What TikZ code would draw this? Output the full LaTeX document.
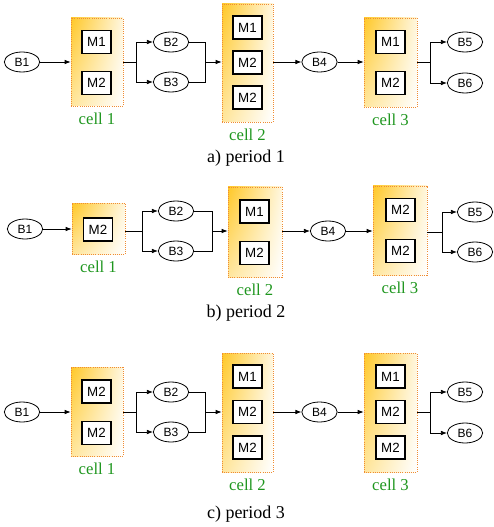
\documentclass[tikz,border=0pt]{standalone}
\usepackage{fontspec}
\setmainfont{Liberation Serif}
\newfontfamily\arialf{Liberation Sans}
\usetikzlibrary{shapes.geometric,arrows.meta,shadings}
\definecolor{cellgold}{RGB}{255,200,40}
\definecolor{cellborder}{RGB}{240,140,50}
\definecolor{labgreen}{RGB}{30,150,30}
\tikzset{
  buf/.style={ellipse,draw,line width=0.6pt,minimum width=26.5pt,minimum height=15pt,inner sep=0pt,font=\arialf\fontsize{9}{10}\selectfont},
  mach/.style={rectangle,draw,line width=0.8pt,fill=white,minimum width=21.75pt,minimum height=17.25pt,inner sep=0pt,font=\arialf\fontsize{10}{11}\selectfont},
  cellbox/.style={rectangle,draw=cellborder,densely dotted,line width=0.6pt,inner sep=0pt,
     upper left=cellgold, upper right=cellgold!15, lower left=cellgold!45, lower right=white},
  celllab/.style={font=\fontsize{12.5}{14}\selectfont,text=labgreen,inner sep=0pt,below=4.5pt},
  perlab/.style={font=\fontsize{13.5}{16}\selectfont,inner sep=0pt},
  arr/.style={-{Latex[length=4.5pt,width=3.5pt]},line width=0.6pt},
  ln/.style={line width=0.6pt}
}
\begin{document}
\begin{tikzpicture}[x=0.75pt,y=-0.75pt]
\useasboundingbox (0,0) rectangle (493,527);
% ---------------- panel a
\node[buf] (aB1) at (22,62) {B1};
\node[cellbox,minimum width=39pt,minimum height=66pt] (ac1) at (97,62) {};
\node[mach] (ac1m1) at (96.5,42) {M1};
\node[mach] (ac1m2) at (96.5,83) {M2};
\node[celllab] (ac1l) at (ac1.south) {cell 1};
\coordinate (aj1) at (136,62);
\node[buf] (aB2) at (171,42) {B2};
\node[buf] (aB3) at (171,82) {B3};
\coordinate (ak1) at (205,62);
\node[cellbox,minimum width=38.25pt,minimum height=88.5pt] (ac2) at (247.5,63) {};
\node[mach] (ac2m1) at (247.5,27.5) {M1};
\node[mach] (ac2m2) at (247.5,62.5) {M2};
\node[mach] (ac2m3) at (247.5,97.5) {M2};
\node[celllab] (ac2l) at (ac2.south) {cell 2};
\node[buf] (aB4) at (319.5,62) {B4};
\node[cellbox,minimum width=39.75pt,minimum height=66.75pt] (ac3) at (390.5,62.5) {};
\node[mach] (ac3m1) at (390.5,42) {M1};
\node[mach] (ac3m2) at (390.5,83) {M2};
\node[celllab] (ac3l) at (ac3.south) {cell 3};
\coordinate (aj3) at (430,62);
\node[buf] (aB5) at (465,42) {B5};
\node[buf] (aB6) at (465,83) {B6};
\node[perlab] (apl) at (246,158) {a) period 1};
\draw[arr] (aB1) -- (aB1 -| ac1.west);
\draw[ln] (ac1.east |- aj1) -- (aj1);
\draw[arr] (aj1) |- (aB2);
\draw[arr] (aj1) |- (aB3);
\draw[ln] (aB2) -| (ak1);
\draw[ln] (aB3) -| (ak1);
\draw[arr] (ak1) -- (ak1 -| ac2.west);
\draw[arr] (ac2.east |- aB4) -- (aB4);
\draw[arr] (aB4) -- (aB4 -| ac3.west);
\draw[ln] (ac3.east |- aj3) -- (aj3);
\draw[arr] (aj3) |- (aB5);
\draw[arr] (aj3) |- (aB6);
% ---------------- panel b
\node[buf] (bB1) at (25,229) {B1};
\node[cellbox,minimum width=39.75pt,minimum height=38.25pt] (bc1) at (98.5,229) {};
\node[mach] (bc1m1) at (98,229.5) {M2};
\node[celllab] (bc1l) at (bc1.south) {cell 1};
\coordinate (bj1) at (142,231);
\node[buf] (bB2) at (176,211) {B2};
\node[buf] (bB3) at (176,251) {B3};
\coordinate (bk1) at (212,231);
\node[cellbox,minimum width=40.5pt,minimum height=67.5pt] (bc2) at (255,232) {};
\node[mach] (bc2m1) at (254.5,211.5) {M1};
\node[mach] (bc2m2) at (254.5,253) {M2};
\node[celllab] (bc2l) at (bc2.south) {cell 2};
\node[buf] (bB4) at (328,231) {B4};
\node[cellbox,minimum width=40.5pt,minimum height=66.75pt] (bc3) at (400,230.5) {};
\node[mach] (bc3m1) at (400.5,210) {M2};
\node[mach] (bc3m2) at (400.5,251) {M2};
\node[celllab] (bc3l) at (bc3.south) {cell 3};
\coordinate (bj3) at (442,232);
\node[buf] (bB5) at (475,212) {B5};
\node[buf] (bB6) at (475,252) {B6};
\node[perlab] (bpl) at (246,313) {b) period 2};
\draw[arr] (bB1) -- (bB1 -| bc1.west);
\draw[ln] (bc1.east |- bj1) -- (bj1);
\draw[arr] (bj1) |- (bB2);
\draw[arr] (bj1) |- (bB3);
\draw[ln] (bB2) -| (bk1);
\draw[ln] (bB3) -| (bk1);
\draw[arr] (bk1) -- (bk1 -| bc2.west);
\draw[arr] (bc2.east |- bB4) -- (bB4);
\draw[arr] (bB4) -- (bB4 -| bc3.west);
\draw[ln] (bc3.east |- bj3) -- (bj3);
\draw[arr] (bj3) |- (bB5);
\draw[arr] (bj3) |- (bB6);
% ---------------- panel c
\node[buf] (cB1) at (22,412) {B1};
\node[cellbox,minimum width=39pt,minimum height=66.75pt] (cc1) at (97,411.5) {};
\node[mach] (cc1m1) at (96.5,391.5) {M2};
\node[mach] (cc1m2) at (96.5,433) {M2};
\node[celllab] (cc1l) at (cc1.south) {cell 1};
\coordinate (cj1) at (136,412);
\node[buf] (cB2) at (171,392) {B2};
\node[buf] (cB3) at (171,432) {B3};
\coordinate (ck1) at (205,412);
\node[cellbox,minimum width=38.25pt,minimum height=89.25pt] (cc2) at (247.5,412.5) {};
\node[mach] (cc2m1) at (247.5,376.5) {M1};
\node[mach] (cc2m2) at (247.5,412) {M2};
\node[mach] (cc2m3) at (247.5,447.5) {M2};
\node[celllab] (cc2l) at (cc2.south) {cell 2};
\node[buf] (cB4) at (319.5,412) {B4};
\node[cellbox,minimum width=39.75pt,minimum height=89.25pt] (cc3) at (390.5,412.5) {};
\node[mach] (cc3m1) at (390.5,376.5) {M1};
\node[mach] (cc3m2) at (390.5,412) {M2};
\node[mach] (cc3m3) at (390.5,447.5) {M2};
\node[celllab] (cc3l) at (cc3.south) {cell 3};
\coordinate (cj3) at (430,412);
\node[buf] (cB5) at (465,392) {B5};
\node[buf] (cB6) at (465,433) {B6};
\node[perlab] (cpl) at (246,514) {c) period 3};
\draw[arr] (cB1) -- (cB1 -| cc1.west);
\draw[ln] (cc1.east |- cj1) -- (cj1);
\draw[arr] (cj1) |- (cB2);
\draw[arr] (cj1) |- (cB3);
\draw[ln] (cB2) -| (ck1);
\draw[ln] (cB3) -| (ck1);
\draw[arr] (ck1) -- (ck1 -| cc2.west);
\draw[arr] (cc2.east |- cB4) -- (cB4);
\draw[arr] (cB4) -- (cB4 -| cc3.west);
\draw[ln] (cc3.east |- cj3) -- (cj3);
\draw[arr] (cj3) |- (cB5);
\draw[arr] (cj3) |- (cB6);
\end{tikzpicture}
\end{document}
